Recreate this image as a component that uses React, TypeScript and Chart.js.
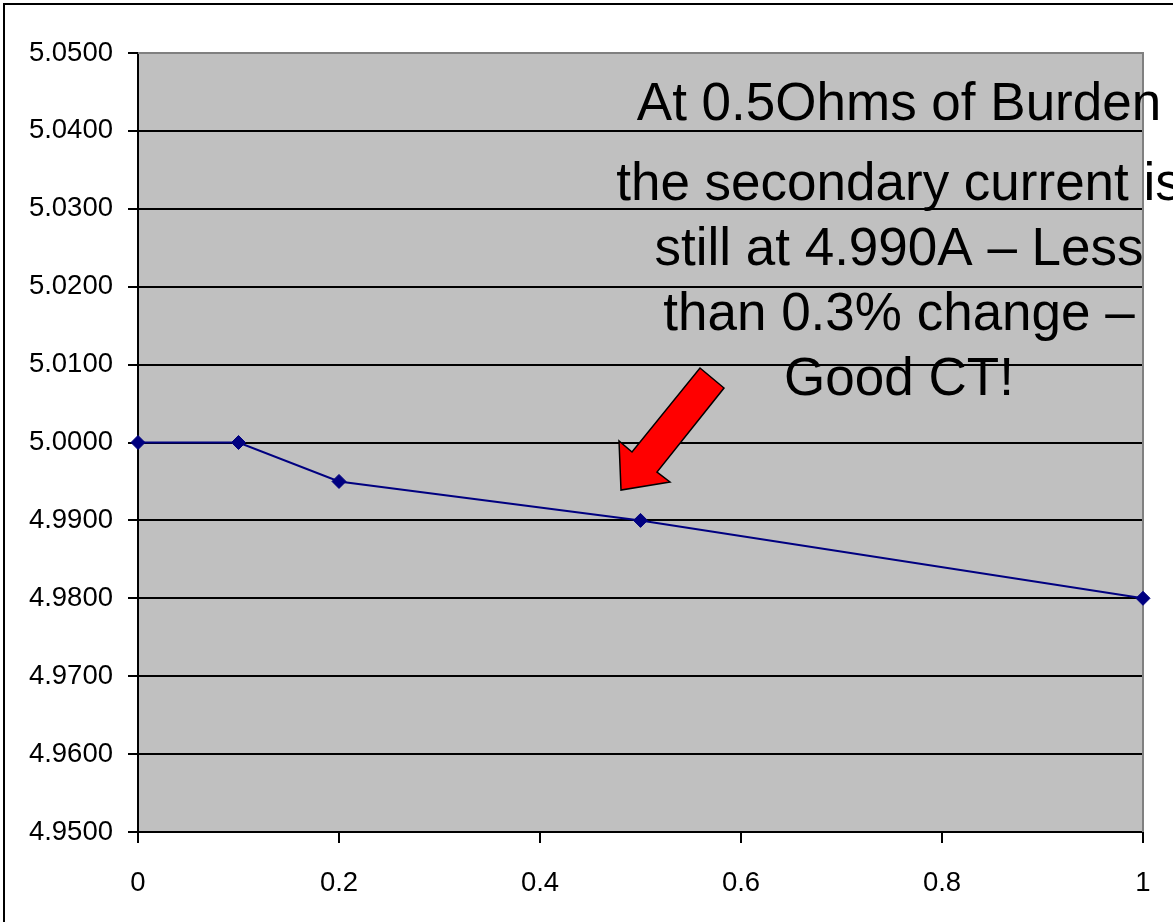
import React, { useEffect, useRef } from "react";
import { Chart, registerables } from "chart.js";

Chart.register(...registerables);

const burdenOhms = [0, 0.1, 0.2, 0.5, 1];
const secondaryCurrent = [5.0, 5.0, 4.995, 4.99, 4.98];
const annotationLines = [
  "At 0.5Ohms of Burden",
  "the secondary current is",
  "still at 4.990A \u2013 Less",
  "than 0.3% change \u2013",
  "Good CT!",
];
const annotationBaselines = [120, 200, 265, 330, 395];
const arrowPoints: [number, number][] = [
  [700, 368],
  [724, 388],
  [657, 472],
  [670, 482],
  [621, 490],
  [619, 441],
  [632, 452],
];

const W = 1173;
const H = 922;
const FONT = "'Liberation Sans', Arial, sans-serif";

export default function App() {
  const ref = useRef<HTMLCanvasElement | null>(null);

  useEffect(() => {
    document.body.style.margin = "0";
    document.body.style.overflow = "hidden";
    const canvas = ref.current;
    if (!canvas) return;

    const decor = {
      id: "decor",
      beforeDraw(chart: any) {
        const { ctx, chartArea: a } = chart;
        ctx.save();
        ctx.fillStyle = "#FFFFFF";
        ctx.fillRect(0, 0, W, H);
        ctx.fillStyle = "#C0C0C0";
        ctx.fillRect(a.left, a.top, a.right - a.left, a.bottom - a.top);
        ctx.restore();
      },
      beforeDatasetsDraw(chart: any) {
        const { ctx, chartArea: a } = chart;
        ctx.save();
        ctx.strokeStyle = "#808080";
        ctx.lineWidth = 2;
        ctx.beginPath();
        ctx.moveTo(a.left, a.top);
        ctx.lineTo(a.right, a.top);
        ctx.lineTo(a.right, a.bottom);
        ctx.stroke();
        ctx.restore();
      },
      afterDraw(chart: any) {
        const { ctx } = chart;
        ctx.save();
        // arrow
        ctx.beginPath();
        arrowPoints.forEach(([x, y], i) => (i === 0 ? ctx.moveTo(x, y) : ctx.lineTo(x, y)));
        ctx.closePath();
        ctx.fillStyle = "#FF0000";
        ctx.fill();
        ctx.strokeStyle = "#000000";
        ctx.lineWidth = 1.5;
        ctx.lineJoin = "miter";
        ctx.stroke();
        // annotation text
        ctx.fillStyle = "#000000";
        ctx.font = `53px ${FONT}`;
        ctx.textAlign = "center";
        ctx.textBaseline = "alphabetic";
        annotationLines.forEach((t, i) => ctx.fillText(t, 899, annotationBaselines[i]));
        // outer border
        ctx.strokeStyle = "#000000";
        ctx.lineWidth = 2;
        ctx.strokeRect(4, 4, 3000, 3000);
        ctx.restore();
      },
    };

    const chart = new Chart(canvas, {
      type: "line",
      data: {
        datasets: [
          {
            data: burdenOhms.map((x, i) => ({ x, y: secondaryCurrent[i] })),
            borderColor: "#000080",
            backgroundColor: "#000080",
            borderWidth: 2,
            pointStyle: "rectRot",
            pointRadius: 7,
            pointBorderWidth: 1,
            pointBorderColor: "#000080",
            pointBackgroundColor: "#000080",
            tension: 0,
            clip: false as any,
          },
        ],
      },
      options: {
        responsive: false,
        animation: false,
        devicePixelRatio: 1,
        layout: { autoPadding: false, padding: { top: 53, right: 30, left: 0, bottom: 0 } },
        plugins: { legend: { display: false }, tooltip: { enabled: false } },
        scales: {
          x: {
            type: "linear",
            min: 0,
            max: 1,
            ticks: {
              stepSize: 0.2,
              color: "#000000",
              font: { family: FONT, size: 27.5 },
              padding: 24,
              maxRotation: 0,
              callback: (v: any) => String(Number(Number(v).toFixed(1))),
            },
            grid: {
              drawOnChartArea: false,
              drawTicks: true,
              tickLength: 11,
              color: "#000000",
              lineWidth: 2,
            },
            border: { display: true, color: "#000000", width: 2 },
            afterFit: (s: any) => {
              s.height = 90;
              s.paddingRight = 0;
              s.paddingLeft = 0;
            },
          },
          y: {
            type: "linear",
            min: 4.95,
            max: 5.05,
            ticks: {
              stepSize: 0.01,
              color: "#000000",
              font: { family: FONT, size: 27.5 },
              padding: 15,
              callback: (v: any) => Number(v).toFixed(4),
            },
            grid: {
              color: "#000000",
              lineWidth: 2,
              tickLength: 10,
              drawTicks: true,
            },
            border: { display: true, color: "#000000", width: 2 },
            afterFit: (s: any) => {
              s.width = 138;
              s.paddingTop = 0;
              s.paddingBottom = 0;
            },
          },
        },
      },
      plugins: [decor],
    });
    return () => chart.destroy();
  }, []);

  return (
    <div style={{ width: W, height: H, position: "relative" }}>
      <canvas ref={ref} width={W} height={H} style={{ display: "block", width: W, height: H }} />
    </div>
  );
}
